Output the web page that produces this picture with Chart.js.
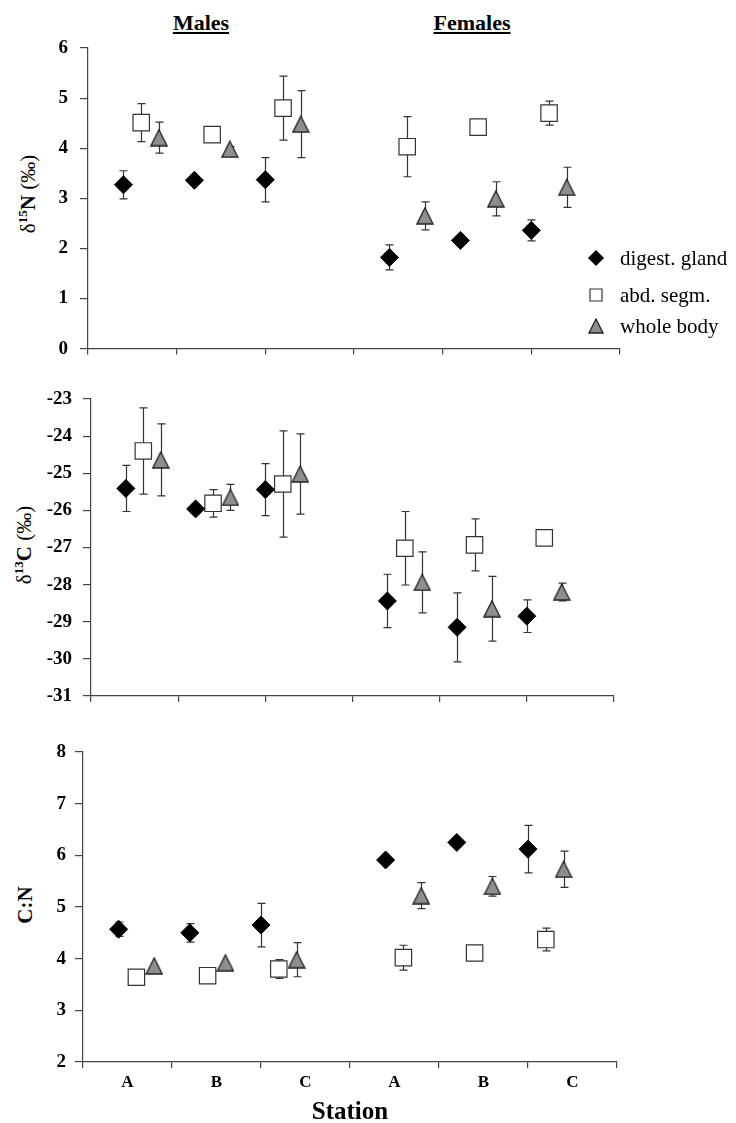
<!DOCTYPE html>
<html>
<head>
<meta charset="utf-8">
<script src="https://cdn.jsdelivr.net/npm/chart.js@4.4.0/dist/chart.umd.min.js"></script>
<style>
  body { margin: 0; background: #fff; width: 736px; height: 1123px; position: relative; overflow: hidden;
         font-family: "Liberation Serif", "Times New Roman", serif; color: #000; }
  canvas { position: absolute; left: 0; }
  .hdr { position: absolute; font-weight: bold; font-size: 22px; text-decoration: underline;
         transform: translate(-50%, -50%); white-space: nowrap; }
  .ylab { position: absolute; font-size: 21px; white-space: nowrap;
          transform: translate(-50%, -50%) rotate(-90deg); }
  .ylab b { font-weight: bold; }
  .ylab sup { font-size: 13px; font-weight: bold; vertical-align: 8px; line-height: 0; }
</style>
</head>
<body>
<div class="hdr" style="left:201px; top:23px;">Males</div>
<div class="hdr" style="left:472px; top:23px;">Females</div>
<div class="ylab" style="left:28px; top:194px;">δ<sup>15</sup><b>N</b> (‰)</div>
<div class="ylab" style="left:24px; top:545px;">δ<sup>13</sup><b>C</b> (‰)</div>
<div class="ylab" style="left:25px; top:905px;"><b>C:N</b></div>

<canvas id="p1" width="736" height="372" style="top:0px;"></canvas>
<canvas id="p2" width="736" height="348" style="top:372px;"></canvas>
<canvas id="p3" width="736" height="403" style="top:720px;"></canvas>

<script>
// stations: males A B C, then females A B C
const stationLabels = ['A', 'B', 'C', 'A', 'B', 'C'];
const stationPos = [0.5, 1.5, 2.5, 4.25, 5.25, 6.25];
const seriesNames = ['digest. gland', 'abd. segm.', 'whole body'];
const seriesShift = [0, 0.25, 0.5];

// delta 15N
const n15Gland = [3.27, 3.36, 3.37, 1.82, 2.16, 2.36];
const n15GlandErr = [0.28, 0, 0.44, 0.25, 0, 0.21];
const n15Abd = [4.51, 4.27, 4.80, 4.03, 4.42, 4.70];
const n15AbdErr = [0.38, 0, 0.64, 0.60, 0, 0.24];
const n15Body = [4.21, 3.98, 4.48, 2.65, 2.99, 3.22];
const n15BodyErr = [0.31, 0.05, 0.67, 0.28, 0.34, 0.40];

// delta 13C
const c13Gland = [-25.41, -25.96, -25.44, -28.44, -29.15, -28.85];
const c13GlandErr = [0.62, 0.10, 0.70, 0.72, 0.93, 0.44];
const c13Abd = [-24.40, -25.81, -25.29, -27.02, -26.93, -26.74];
const c13AbdErr = [1.16, 0.37, 1.43, 0.99, 0.70, 0];
const c13Body = [-24.64, -25.65, -25.02, -27.94, -28.65, -28.20];
const c13BodyErr = [0.97, 0.35, 1.08, 0.82, 0.87, 0.24];

// C:N ratio
const cnGland = [4.57, 4.50, 4.65, 5.91, 6.25, 6.12];
const cnGlandErr = [0.14, 0.18, 0.42, 0, 0, 0.46];
const cnAbd = [3.64, 3.67, 3.80, 4.02, 4.11, 4.37];
const cnAbdErr = [0, 0, 0.18, 0.24, 0, 0.22];
const cnBody = [3.86, 3.92, 3.98, 5.22, 5.40, 5.73];
const cnBodyErr = [0, 0, 0.33, 0.25, 0.19, 0.35];

const axisColor = '#444';
Chart.defaults.font.family = "'Liberation Serif', 'Times New Roman', serif";
Chart.defaults.color = '#000';

function triangleMarker(size) {
    const c = document.createElement('canvas');
    c.width = size + 2;
    c.height = size + 2;
    const g = c.getContext('2d');
    g.beginPath();
    g.moveTo(c.width / 2, 1);
    g.lineTo(c.width - 1, c.height - 1);
    g.lineTo(1, c.height - 1);
    g.closePath();
    g.fillStyle = '#8e8e8e';
    g.fill();
    g.lineWidth = 1.3;
    g.strokeStyle = '#222';
    g.stroke();
    return c;
}
const triBig = triangleMarker(16);
const triSmall = triangleMarker(14);

function punts(valors, s) {
    return valors.map((v, i) => ({ x: stationPos[i] + seriesShift[s], y: v }));
}

const errorBars = {
    id: 'errorBars',
    beforeDatasetsDraw(chart) {
        const ctx = chart.ctx;
        const y = chart.scales.y;
        ctx.save();
        ctx.strokeStyle = '#333';
        ctx.lineWidth = 1.2;
        chart.data.datasets.forEach((ds, i) => {
            const meta = chart.getDatasetMeta(i);
            meta.data.forEach((pt, j) => {
                const e = ds.err[j];
                if (!e) return;
                const v = ds.data[j].y;
                const top = y.getPixelForValue(v + e);
                const bot = y.getPixelForValue(v - e);
                const x = Math.round(pt.x) + 0.5;
                ctx.beginPath();
                ctx.moveTo(x, top); ctx.lineTo(x, bot);
                ctx.moveTo(x - 4, top); ctx.lineTo(x + 4, top);
                ctx.moveTo(x - 4, bot); ctx.lineTo(x + 4, bot);
                ctx.stroke();
            });
        });
        ctx.restore();
    }
};

const legendInside = {
    id: 'legendInside',
    afterDraw(chart) {
        if (chart.canvas.id !== 'p1') return;
        const ctx = chart.ctx;
        const files = [258, 295, 326];
        const estils = [
            { pointStyle: 'rectRot', radius: 7.5, fill: '#000', stroke: '#000', borderWidth: 1 },
            { pointStyle: 'rect', radius: 8.5, fill: '#fff', stroke: '#333', borderWidth: 1.2 },
            { pointStyle: triSmall, radius: 7, fill: '#8e8e8e', stroke: '#222', borderWidth: 0 }
        ];
        ctx.save();
        ctx.font = "21px 'Liberation Serif', 'Times New Roman', serif";
        ctx.textBaseline = 'middle';
        ctx.fillStyle = '#000';
        chart.data.datasets.forEach((ds, i) => {
            const e = estils[i];
            ctx.fillStyle = e.fill;
            ctx.strokeStyle = e.stroke;
            ctx.lineWidth = e.borderWidth;
            Chart.helpers.drawPoint(ctx, { pointStyle: e.pointStyle, radius: e.radius, rotation: 0, borderWidth: e.borderWidth }, 596, files[i]);
            ctx.fillStyle = '#000';
            ctx.fillText(ds.label, 620, files[i] + 1);
        });
        ctx.restore();
    }
};

function pintarPanell(id, cfg) {
    const ctx = document.getElementById(id).getContext('2d');
    return new Chart(ctx, {
        type: 'scatter',
        data: {
            datasets: [
                {
                    label: seriesNames[0], data: punts(cfg.gland, 0), err: cfg.glandErr,
                    pointStyle: 'rectRot', pointRadius: 9, pointHoverRadius: 9,
                    backgroundColor: '#000', borderColor: '#000', borderWidth: 1
                },
                {
                    label: seriesNames[1], data: punts(cfg.abd, 1), err: cfg.abdErr,
                    pointStyle: 'rect', pointRadius: 11.6, pointHoverRadius: 11.6,
                    backgroundColor: '#fff', borderColor: '#333', borderWidth: 1.2
                },
                {
                    label: seriesNames[2], data: punts(cfg.body, 2), err: cfg.bodyErr,
                    pointStyle: triBig, pointRadius: 9, pointHoverRadius: 9,
                    backgroundColor: '#8e8e8e', borderColor: '#222', borderWidth: 0
                }
            ]
        },
        options: {
            responsive: false,
            animation: false,
            layout: { padding: { top: cfg.padTop, right: cfg.padRight, left: 0, bottom: 0 } },
            plugins: { legend: { display: false }, tooltip: { enabled: false } },
            scales: {
                x: { type: 'linear', display: false, min: 0, max: 7.5 },
                st: {
                    type: 'category',
                    position: 'bottom',
                    labels: stationLabels,
                    offset: true,
                    grid: { offset: true, drawOnChartArea: false, tickLength: 6, color: axisColor, lineWidth: 1.2 },
                    border: { color: axisColor, width: 1.2 },
                    ticks: {
                        display: cfg.showStations, maxRotation: 0, padding: 4,
                        font: { size: 17, weight: 'bold' }
                    },
                    title: {
                        display: cfg.showStations, text: 'Station',
                        font: { size: 25, weight: 'bold', lineHeight: 1 },
                        padding: { top: 0, bottom: -2 }
                    },
                    afterFit: s => { s.height = cfg.xHeight; }
                },
                y: {
                    min: cfg.min, max: cfg.max,
                    ticks: { stepSize: 1, padding: cfg.tickPad, font: { size: 19, weight: 'bold' } },
                    grid: { drawOnChartArea: false, tickLength: 8, color: axisColor, lineWidth: 1.2 },
                    border: { color: axisColor, width: 1.2 },
                    afterFit: s => { s.width = cfg.yWidth; }
                }
            }
        },
        plugins: [errorBars, legendInside]
    });
}

pintarPanell('p1', {
    gland: n15Gland, glandErr: n15GlandErr, abd: n15Abd, abdErr: n15AbdErr, body: n15Body, bodyErr: n15BodyErr,
    min: 0, max: 6, padTop: 48, padRight: 116, yWidth: 88, xHeight: 23, tickPad: 12, showStations: false
});
pintarPanell('p2', {
    gland: c13Gland, glandErr: c13GlandErr, abd: c13Abd, abdErr: c13AbdErr, body: c13Body, bodyErr: c13BodyErr,
    min: -31, max: -23, padTop: 27, padRight: 122, yWidth: 91, xHeight: 24, tickPad: 11, showStations: false
});
pintarPanell('p3', {
    gland: cnGland, glandErr: cnGlandErr, abd: cnAbd, abdErr: cnAbdErr, body: cnBody, bodyErr: cnBodyErr,
    min: 2, max: 8, padTop: 32, padRight: 119, yWidth: 83, xHeight: 61, tickPad: 9, showStations: true
});
</script>
</body>
</html>
